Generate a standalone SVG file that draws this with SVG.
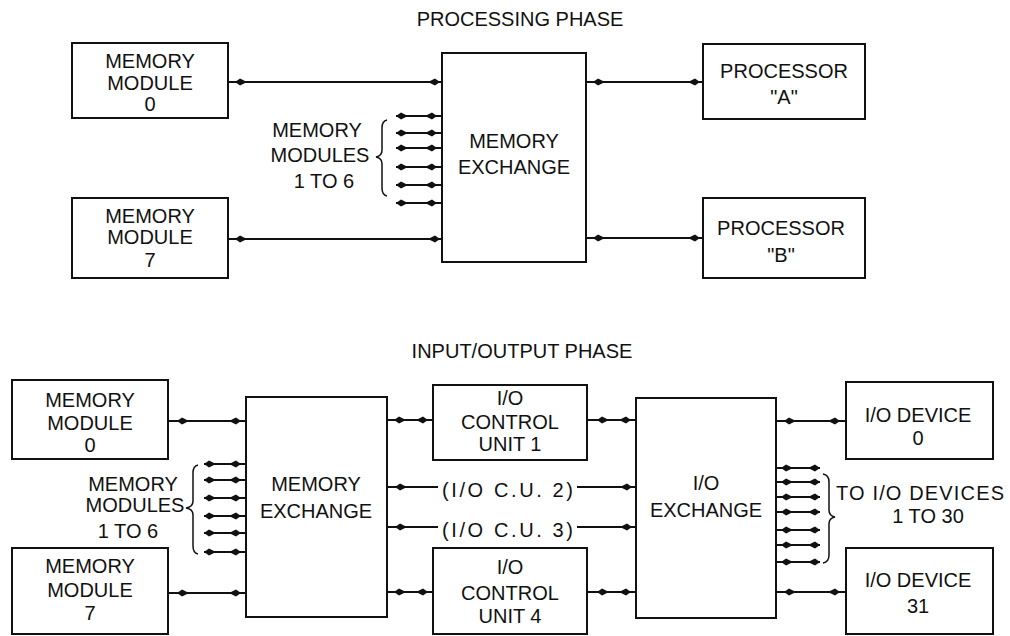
<svg xmlns="http://www.w3.org/2000/svg" xmlns:xlink="http://www.w3.org/1999/xlink" width="1010" height="636" viewBox="0 0 1010 636">
<style>
  .box { fill: #fff; stroke: #111; stroke-width: 2; }
  .ln { stroke: #111; stroke-width: 2; fill: none; }
  .br { stroke: #111; stroke-width: 1.5; fill: none; }
  .t { font-family: "Liberation Sans", Arial, sans-serif; font-size: 20px; fill: #111; text-anchor: middle; }
  .ts { font-family: "Liberation Sans", Arial, sans-serif; font-size: 20px; fill: #111; text-anchor: start; }
  .ah { fill: #111; }
</style>
<defs>
  <path id="ar" class="ah" d="M0,0 L-5,-3.6 L-12,0 L-5,3.6 Z"/>
  <path id="al" class="ah" d="M0,0 L5,-3.6 L12,0 L5,3.6 Z"/>
</defs>
<rect width="1010" height="636" fill="#fff"/>

<text class="t" x="520" y="26">PROCESSING PHASE</text>
<text class="t" x="522" y="358">INPUT/OUTPUT PHASE</text>

<!-- connectors -->
<g id="connectors">
  <!-- top -->
  <line class="ln" x1="228" y1="82" x2="442" y2="82"/>
  <use xlink:href="#al" x="235" y="82"/><use xlink:href="#ar" x="440" y="82"/>
  <line class="ln" x1="228" y1="239" x2="442" y2="239"/>
  <use xlink:href="#al" x="235" y="239"/><use xlink:href="#ar" x="440" y="239"/>
  <line class="ln" x1="586" y1="82" x2="703" y2="82"/>
  <use xlink:href="#al" x="593" y="82"/><use xlink:href="#ar" x="700" y="82"/>
  <line class="ln" x1="586" y1="238" x2="703" y2="238"/>
  <use xlink:href="#al" x="593" y="238"/><use xlink:href="#ar" x="700" y="238"/>
  <g>
    <line class="ln" x1="396" y1="116" x2="442" y2="116"/><use xlink:href="#al" x="396" y="116"/><use xlink:href="#ar" x="437" y="116"/>
    <line class="ln" x1="396" y1="133" x2="442" y2="133"/><use xlink:href="#al" x="396" y="133"/><use xlink:href="#ar" x="437" y="133"/>
    <line class="ln" x1="396" y1="148" x2="442" y2="148"/><use xlink:href="#al" x="396" y="148"/><use xlink:href="#ar" x="437" y="148"/>
    <line class="ln" x1="396" y1="167" x2="442" y2="167"/><use xlink:href="#al" x="396" y="167"/><use xlink:href="#ar" x="437" y="167"/>
    <line class="ln" x1="396" y1="185" x2="442" y2="185"/><use xlink:href="#al" x="396" y="185"/><use xlink:href="#ar" x="437" y="185"/>
    <line class="ln" x1="396" y1="203" x2="442" y2="203"/><use xlink:href="#al" x="396" y="203"/><use xlink:href="#ar" x="437" y="203"/>
  </g>
  <path class="br" d="M387,120 Q382,121 382,128 L382,150 Q382,156 376,157 Q382,158 382,164 L382,188 Q382,195 387,196"/>

  <!-- bottom -->
  <line class="ln" x1="168" y1="421" x2="246" y2="421"/>
  <use xlink:href="#al" x="177" y="421"/><use xlink:href="#ar" x="241" y="421"/>
  <line class="ln" x1="168" y1="593" x2="246" y2="593"/>
  <use xlink:href="#al" x="177" y="593"/><use xlink:href="#ar" x="241" y="593"/>
  <g>
    <line class="ln" x1="204" y1="464" x2="246" y2="464"/><use xlink:href="#al" x="204" y="464"/><use xlink:href="#ar" x="241" y="464"/>
    <line class="ln" x1="204" y1="480" x2="246" y2="480"/><use xlink:href="#al" x="204" y="480"/><use xlink:href="#ar" x="241" y="480"/>
    <line class="ln" x1="204" y1="498" x2="246" y2="498"/><use xlink:href="#al" x="204" y="498"/><use xlink:href="#ar" x="241" y="498"/>
    <line class="ln" x1="204" y1="516" x2="246" y2="516"/><use xlink:href="#al" x="204" y="516"/><use xlink:href="#ar" x="241" y="516"/>
    <line class="ln" x1="204" y1="533" x2="246" y2="533"/><use xlink:href="#al" x="204" y="533"/><use xlink:href="#ar" x="241" y="533"/>
    <line class="ln" x1="204" y1="552" x2="246" y2="552"/><use xlink:href="#al" x="204" y="552"/><use xlink:href="#ar" x="241" y="552"/>
  </g>
  <path class="br" d="M198,465 Q193,466 193,473 L193,501 Q193,507 186,508 Q193,509 193,515 L193,546 Q193,553 198,554"/>

  <line class="ln" x1="387" y1="420" x2="433" y2="420"/>
  <use xlink:href="#al" x="394" y="420"/><use xlink:href="#ar" x="428" y="420"/>
  <line class="ln" x1="387" y1="592" x2="433" y2="592"/>
  <use xlink:href="#al" x="394" y="592"/><use xlink:href="#ar" x="428" y="592"/>
  <line class="ln" x1="387" y1="487" x2="438" y2="487"/><use xlink:href="#al" x="395" y="487"/>
  <line class="ln" x1="577" y1="487" x2="636" y2="487"/><use xlink:href="#ar" x="632" y="487"/>
  <line class="ln" x1="387" y1="527" x2="438" y2="527"/><use xlink:href="#al" x="395" y="527"/>
  <line class="ln" x1="577" y1="527" x2="636" y2="527"/><use xlink:href="#ar" x="632" y="527"/>
  <line class="ln" x1="587" y1="420" x2="636" y2="420"/>
  <use xlink:href="#al" x="597" y="420"/><use xlink:href="#ar" x="631" y="420"/>
  <line class="ln" x1="587" y1="592" x2="636" y2="592"/>
  <use xlink:href="#al" x="597" y="592"/><use xlink:href="#ar" x="631" y="592"/>

  <line class="ln" x1="776" y1="421" x2="846" y2="421"/>
  <use xlink:href="#al" x="784" y="421"/><use xlink:href="#ar" x="840" y="421"/>
  <line class="ln" x1="776" y1="592" x2="846" y2="592"/>
  <use xlink:href="#al" x="784" y="592"/><use xlink:href="#ar" x="840" y="592"/>
  <g>
    <line class="ln" x1="776" y1="468" x2="820" y2="468"/><use xlink:href="#al" x="781" y="468"/><use xlink:href="#ar" x="820" y="468"/>
    <line class="ln" x1="776" y1="482" x2="820" y2="482"/><use xlink:href="#al" x="781" y="482"/><use xlink:href="#ar" x="820" y="482"/>
    <line class="ln" x1="776" y1="497" x2="820" y2="497"/><use xlink:href="#al" x="781" y="497"/><use xlink:href="#ar" x="820" y="497"/>
    <line class="ln" x1="776" y1="512" x2="820" y2="512"/><use xlink:href="#al" x="781" y="512"/><use xlink:href="#ar" x="820" y="512"/>
    <line class="ln" x1="776" y1="530" x2="820" y2="530"/><use xlink:href="#al" x="781" y="530"/><use xlink:href="#ar" x="820" y="530"/>
    <line class="ln" x1="776" y1="545" x2="820" y2="545"/><use xlink:href="#al" x="781" y="545"/><use xlink:href="#ar" x="820" y="545"/>
    <line class="ln" x1="776" y1="562" x2="820" y2="562"/><use xlink:href="#al" x="781" y="562"/><use xlink:href="#ar" x="820" y="562"/>
  </g>
  <path class="br" d="M823,474 Q829,475 829,482 L829,510 Q829,516 835,517 Q829,518 829,524 L829,555 Q829,562 823,563"/>
</g>

<!-- top nodes -->
<g id="mm0-top">
  <rect class="box" x="72" y="43" width="156" height="75"/>
  <text class="t" x="150" y="68">MEMORY</text>
  <text class="t" x="150" y="90">MODULE</text>
  <text class="t" x="150" y="111">0</text>
</g>
<g id="mm7-top">
  <rect class="box" x="72" y="198" width="156" height="80"/>
  <text class="t" x="150" y="223">MEMORY</text>
  <text class="t" x="150" y="244">MODULE</text>
  <text class="t" x="150" y="267">7</text>
</g>
<g id="mm1to6-top">
  <text class="t" x="317" y="137">MEMORY</text>
  <text class="t" x="320" y="162">MODULES</text>
  <text class="t" x="324" y="188">1 TO 6</text>
</g>
<g id="memx-top">
  <rect class="box" x="442" y="53" width="144" height="209"/>
  <text class="t" x="514" y="148">MEMORY</text>
  <text class="t" x="514" y="174">EXCHANGE</text>
</g>
<g id="proc-a">
  <rect class="box" x="703" y="44" width="162" height="75"/>
  <text class="t" x="784" y="78">PROCESSOR</text>
  <text class="t" x="784" y="104">"A"</text>
</g>
<g id="proc-b">
  <rect class="box" x="703" y="198" width="162" height="80"/>
  <text class="t" x="781" y="235">PROCESSOR</text>
  <text class="t" x="781" y="262">"B"</text>
</g>

<!-- bottom nodes -->
<g id="mm0-bot">
  <rect class="box" x="12" y="380" width="156" height="79"/>
  <text class="t" x="90" y="407">MEMORY</text>
  <text class="t" x="90" y="430">MODULE</text>
  <text class="t" x="90" y="452">0</text>
</g>
<g id="mm7-bot">
  <rect class="box" x="12" y="548" width="156" height="86"/>
  <text class="t" x="90" y="573">MEMORY</text>
  <text class="t" x="90" y="597">MODULE</text>
  <text class="t" x="90" y="620">7</text>
</g>
<g id="mm1to6-bot">
  <text class="t" x="133" y="491">MEMORY</text>
  <text class="t" x="135" y="512">MODULES</text>
  <text class="t" x="128" y="538">1 TO 6</text>
</g>
<g id="memx-bot">
  <rect class="box" x="246" y="397" width="141" height="220"/>
  <text class="t" x="316" y="491">MEMORY</text>
  <text class="t" x="316" y="518">EXCHANGE</text>
</g>
<g id="iocu1">
  <rect class="box" x="433" y="385" width="154" height="75"/>
  <text class="t" x="510" y="405">I/O</text>
  <text class="t" x="510" y="429">CONTROL</text>
  <text class="t" x="510" y="451">UNIT 1</text>
</g>
<g id="iocu2">
  <text class="ts" x="442" y="497" textLength="131" lengthAdjust="spacing">(I/O C.U. 2)</text>
</g>
<g id="iocu3">
  <text class="ts" x="442" y="537" textLength="131" lengthAdjust="spacing">(I/O C.U. 3)</text>
</g>
<g id="iocu4">
  <rect class="box" x="433" y="548" width="154" height="86"/>
  <text class="t" x="510" y="574">I/O</text>
  <text class="t" x="510" y="600">CONTROL</text>
  <text class="t" x="510" y="623">UNIT 4</text>
</g>
<g id="iox">
  <rect class="box" x="636" y="398" width="140" height="220"/>
  <text class="t" x="706" y="490">I/O</text>
  <text class="t" x="706" y="517">EXCHANGE</text>
</g>
<g id="iodev0">
  <rect class="box" x="846" y="382" width="147" height="77"/>
  <text class="t" x="918" y="422">I/O DEVICE</text>
  <text class="t" x="918" y="445">0</text>
</g>
<g id="iodev1to30">
  <text class="ts" x="836" y="500" textLength="168" lengthAdjust="spacing">TO I/O DEVICES</text>
  <text class="t" x="928" y="523">1 TO 30</text>
</g>
<g id="iodev31">
  <rect class="box" x="846" y="548" width="147" height="86"/>
  <text class="t" x="918" y="587">I/O DEVICE</text>
  <text class="t" x="918" y="613">31</text>
</g>
</svg>
